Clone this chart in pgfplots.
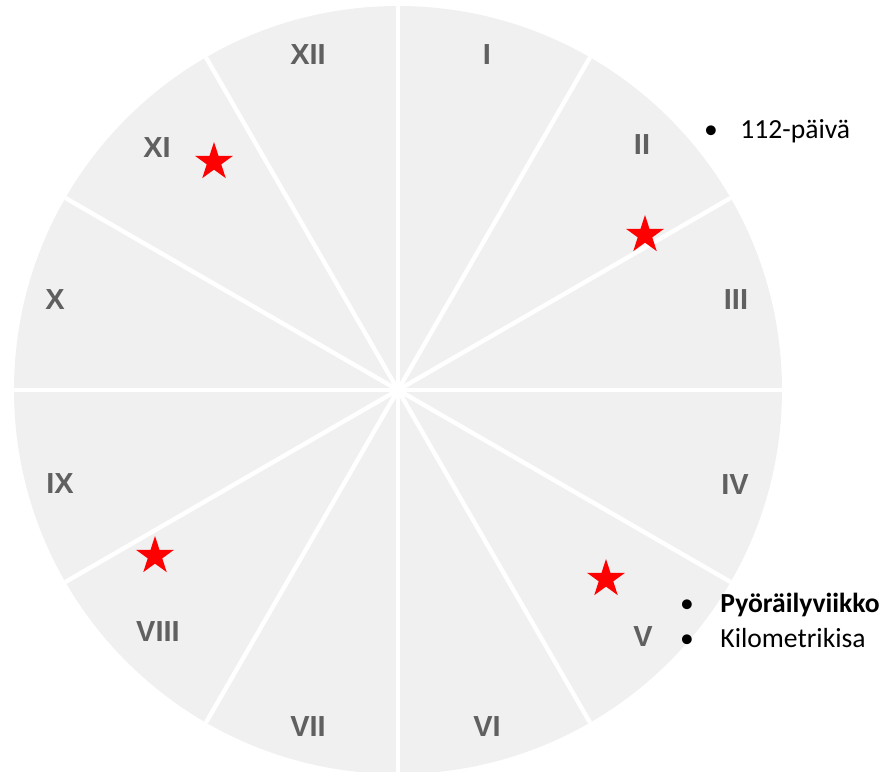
\documentclass[border=0pt]{standalone}
\usepackage{fontspec}
\setmainfont{Carlito}
\newfontfamily\numfont{Liberation Sans}
\usepackage{pgfplots}
\pgfplotsset{compat=1.18}
\definecolor{disc}{RGB}{240,240,240}
\definecolor{numgray}{RGB}{96,96,96}
\pgfdeclareplotmark{fstar}{%
  \pgfpathmoveto{\pgfpointpolar{90}{\pgfplotmarksize}}%
  \pgfpathlineto{\pgfpointpolar{126}{0.382\pgfplotmarksize}}%
  \pgfpathlineto{\pgfpointpolar{162}{\pgfplotmarksize}}%
  \pgfpathlineto{\pgfpointpolar{198}{0.382\pgfplotmarksize}}%
  \pgfpathlineto{\pgfpointpolar{234}{\pgfplotmarksize}}%
  \pgfpathlineto{\pgfpointpolar{270}{0.382\pgfplotmarksize}}%
  \pgfpathlineto{\pgfpointpolar{306}{\pgfplotmarksize}}%
  \pgfpathlineto{\pgfpointpolar{342}{0.382\pgfplotmarksize}}%
  \pgfpathlineto{\pgfpointpolar{18}{\pgfplotmarksize}}%
  \pgfpathlineto{\pgfpointpolar{54}{0.382\pgfplotmarksize}}%
  \pgfpathclose
  \pgfusepathqfill}
\begin{document}
\begin{tikzpicture}
\path[use as bounding box] (0,0) rectangle (442.5pt,386pt);
\begin{axis}[x=0.5pt, y=0.5pt, xmin=0, xmax=885, ymin=0, ymax=772,
  hide axis, clip=true, anchor=south west, at={(0,0)}]
\fill[disc] (axis cs:398,382) circle[radius=192pt];
\draw[white, line width=2.2pt] (axis cs:14,382) -- (axis cs:782,382);
\draw[white, line width=2.2pt] (axis cs:730.6,574) -- (axis cs:65.4,190);
\draw[white, line width=2.2pt] (axis cs:590,714.6) -- (axis cs:206,49.4);
\draw[white, line width=2.2pt] (axis cs:398,766) -- (axis cs:398,-2);
\draw[white, line width=2.2pt] (axis cs:206,714.6) -- (axis cs:590,49.4);
\draw[white, line width=2.2pt] (axis cs:65.4,574) -- (axis cs:730.6,190);
\addplot[only marks, mark=fstar, mark size=10pt, color=red, mark options={fill=red, draw=none}]
  coordinates {(214,610) (645,537) (606,193) (155,216)};
\begin{scope}[every node/.style={font=\numfont\bfseries\fontsize{14.5}{17}\selectfont, text=numgray, inner sep=0pt, anchor=center}]
\node at (axis cs:487,717) {I};
\node at (axis cs:642,627) {II};
\node at (axis cs:736,472) {III};
\node at (axis cs:735,287) {IV};
\node at (axis cs:643,135) {V};
\node at (axis cs:487,45) {VI};
\node at (axis cs:308,45) {VII};
\node at (axis cs:158,140) {VIII};
\node at (axis cs:60,288) {IX};
\node at (axis cs:55,472) {X};
\node at (axis cs:157,624) {XI};
\node at (axis cs:308,717) {XII};
\end{scope}
\begin{scope}[every node/.style={font=\fontsize{13.8}{16}\selectfont, text=black, inner sep=0pt}]
\node[anchor=base] at (axis cs:711,633) {•};
\node[anchor=base west] at (axis cs:740,633) {112-päivä};
\node[anchor=base] at (axis cs:687,159) {•};
\node[anchor=base west] at (axis cs:720,159) {\bfseries Pyöräilyviikko};
\node[anchor=base] at (axis cs:687,124) {•};
\node[anchor=base west] at (axis cs:720,124) {Kilometrikisa};
\end{scope}
\end{axis}
\end{tikzpicture}
\end{document}
